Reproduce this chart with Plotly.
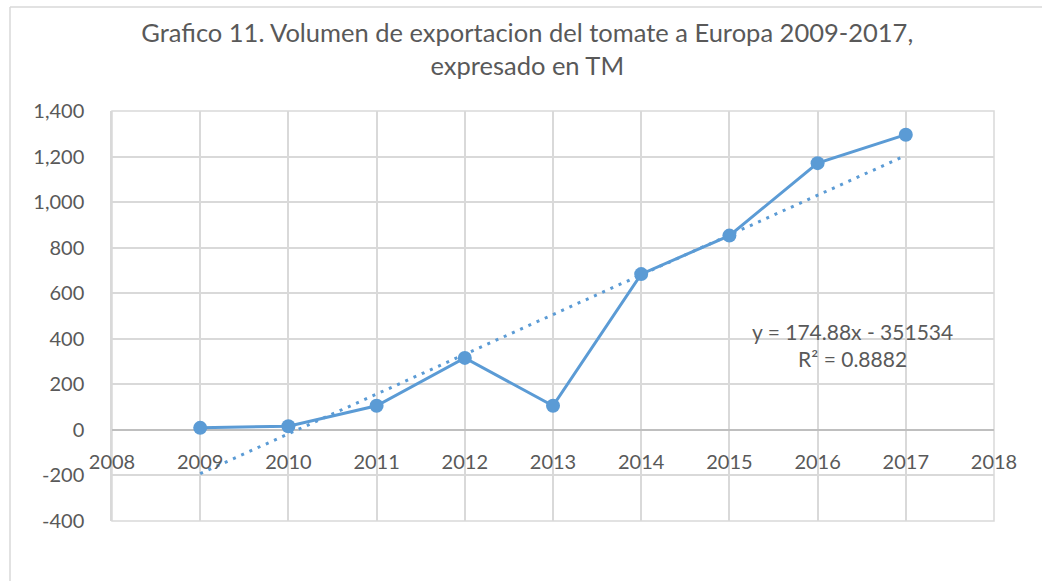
import numpy as np
import plotly.graph_objects as go

years = [2009, 2010, 2011, 2012, 2013, 2014, 2015, 2016, 2017]
volume = [9, 16, 106, 316, 106, 684, 853, 1171, 1296]
y_ticks = [-400, -200, 0, 200, 400, 600, 800, 1000, 1200, 1400]
y_labels = ["-400", "-200", "0", "200", "400", "600", "800", "1,000", "1,200", "1,400"]
x_ticks = [2008, 2009, 2010, 2011, 2012, 2013, 2014, 2015, 2016, 2017, 2018]
eq_text = "y = 174.88x - 351534<br>R² = 0.8882"

slope, intercept = np.polyfit(years, volume, 1)
trend = [slope * x + intercept for x in years]

blue = "#5B9BD5"
grey_txt = "#595959"
grid = "#D9D9D9"
font_family = "Lato, Open Sans, sans-serif"

fig = go.Figure()
fig.add_trace(go.Scatter(x=years, y=trend, mode="lines",
                         line=dict(color=blue, width=3, dash="3px,6px"),
                         showlegend=False, hoverinfo="skip"))
fig.add_trace(go.Scatter(x=years, y=volume, mode="lines+markers",
                         line=dict(color=blue, width=3),
                         marker=dict(color=blue, size=14),
                         showlegend=False))

W, H = 1042, 581
l, r, t, b = 112, 48, 111, 60
pw, ph = W - l - r, H - t - b

fig.update_layout(
    width=W, height=H,
    margin=dict(l=l, r=r, t=t, b=b),
    paper_bgcolor="white", plot_bgcolor="white",
    font=dict(family=font_family, color=grey_txt, size=20),
    title=dict(text="Grafico 11. Volumen de exportacion del tomate a Europa 2009-2017,<br>expresado en TM",
               x=0.506, xref="container", xanchor="center",
               y=1 - 42 / H, yref="container", yanchor="middle",
               font=dict(size=25.5, color=grey_txt, family=font_family)),
    xaxis=dict(range=[2008, 2018], tickvals=x_ticks, ticktext=[str(v) for v in x_ticks],
               showgrid=True, gridcolor=grid, gridwidth=1.5,
               anchor="free", position=400 / 1800, showline=False,
               ticks="", zeroline=False, ticklabelstandoff=18),
    yaxis=dict(range=[-400, 1400], tickvals=y_ticks, ticktext=y_labels,
               showgrid=True, gridcolor=grid, gridwidth=1.5,
               zeroline=True, zerolinecolor="#BFBFBF", zerolinewidth=2,
               showline=True, linecolor=grid, linewidth=1.5,
               ticks="", ticklabelstandoff=22),
    annotations=[dict(text=eq_text, x=(852 - l) / pw, y=(H - b - 345) / ph,
                      xref="paper", yref="paper", xanchor="center", yanchor="middle",
                      showarrow=False, align="center",
                      font=dict(size=21, color=grey_txt, family=font_family))],
)

# plot area frame (gridline colour)
fig.add_shape(type="rect", xref="paper", yref="paper", x0=0, x1=1, y0=0, y1=1,
              line=dict(color=grid, width=1.5), layer="below")

# chart border (left and top edges visible)
bx = (10 - l) / pw
by = (H - b - 7) / ph
fig.add_shape(type="line", xref="paper", yref="paper", x0=bx, x1=bx, y0=(H - b - 600) / ph, y1=by,
              line=dict(color=grid, width=1.5))
fig.add_shape(type="line", xref="paper", yref="paper", x0=bx, x1=(1100 - l) / pw, y0=by, y1=by,
              line=dict(color=grid, width=1.5))

fig.write_html("out.html", config={"displayModeBar": False},
               post_script="document.body.style.margin='0';document.body.style.overflow='hidden';")
